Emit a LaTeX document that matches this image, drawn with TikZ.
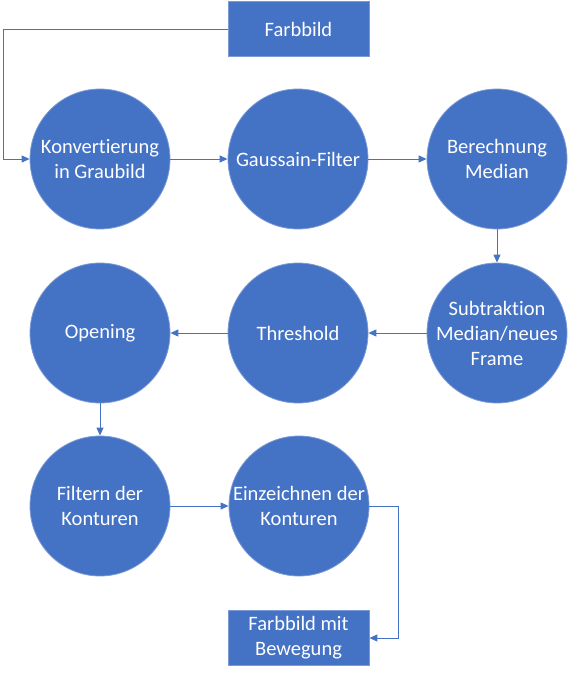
\documentclass[tikz,border=0pt]{standalone}
\usepackage{fontspec}
\setmainfont[Ligatures={NoCommon}]{Carlito}
\usetikzlibrary{arrows.meta}
\definecolor{obl}{HTML}{4472C4}
\definecolor{obd}{HTML}{7C9BD6}
\begin{document}
\begin{tikzpicture}[x=1pt,y=-1pt,
  circ/.style={circle,fill=obl,draw=obd,line width=0.8pt,minimum size=140pt,inner sep=0pt,text=white,align=center,font=\fontsize{20.5}{25}\selectfont},
  rbox/.style={rectangle,fill=obl,draw=obd,line width=0.8pt,minimum width=141pt,minimum height=55pt,inner sep=0pt,text=white,align=center,font=\fontsize{20.5}{25}\selectfont},
  conn/.style={draw=obl,line width=0.9pt,-{Triangle[length=8pt,width=7pt]}}]
\useasboundingbox (0,0) rectangle (576,674);
\node[rbox] (fb) at (298.5,29) {Farbbild};
\node[circ] (k) at (100,159) {Konvertierung\\in Graubild};
\node[circ] (g) at (298,159) {Gaussain-Filter};
\node[circ] (b) at (497,159) {Berechnung\\Median};
\node[circ] (s) at (497,333) {Subtraktion\\Median/neues\\Frame};
\node[circ] (t) at (298,333) {Threshold};
\node[circ] (o) at (100,333) {\raisebox{-2pt}{Opening}};
\node[circ] (f) at (100,506) {Filtern der\\Konturen};
\node[circ] (e) at (299,506) {Einzeichnen der\\Konturen};
\node[rbox] (fm) at (298.5,638) {Farbbild mit\\Bewegung};
\coordinate (c1) at (3,29);
\coordinate (c2) at (3,159);
\coordinate (c3) at (398,506);
\coordinate (c4) at (398,638);
\draw[conn] (fb.west) -- (c1) -- (c2) -- (k.west);
\draw[conn] (k) -- (g);
\draw[conn] (g) -- (b);
\draw[conn] (b) -- (s);
\draw[conn] (s) -- (t);
\draw[conn] (t) -- (o);
\draw[conn] (o) -- (f);
\draw[conn] (f) -- (e);
\draw[conn] (e.east) -- (c3) -- (c4) -- (fm.east);
\end{tikzpicture}
\end{document}
